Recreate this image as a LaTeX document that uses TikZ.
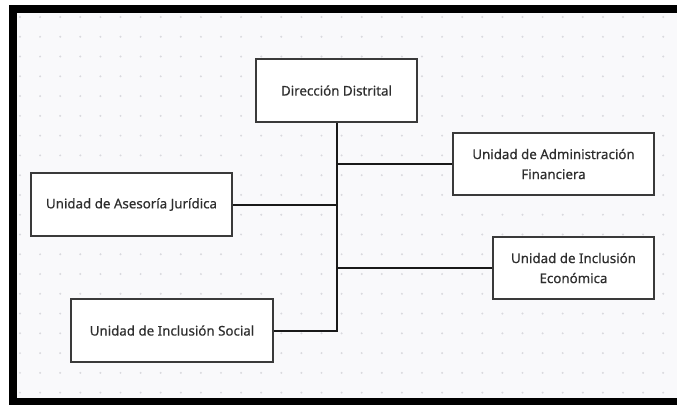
\documentclass[tikz,border=0pt]{standalone}
\usepackage{fontspec}
\setmainfont[FakeBold=0.5]{Noto Sans}
\definecolor{bg}{HTML}{F9F9FB}
\definecolor{dotc}{HTML}{D9D9DE}
\definecolor{boxline}{HTML}{3A3A3A}
\definecolor{txt}{HTML}{2E2E2E}
\begin{document}
\begin{tikzpicture}[x=0.75pt,y=-0.75pt,
  unitbox/.style={draw=boxline,line width=1.5pt,fill=white,inner sep=0pt,align=center,
    text=txt,font=\fontsize{10pt}{15pt}\selectfont\bfseries},
  link/.style={draw=black!90,line width=1.5pt}]
\useasboundingbox (0,0) rectangle (677,405);
\fill[white] (0,0) rectangle (677,405);
\fill[bg] (9,5) rectangle (677,405);
\foreach \i in {0,...,32}{
  \foreach \j in {0,...,19}{
    \fill[dotc] ({20+20.1*\i},{17+19.77*\j}) circle (1.1);
  }
}
\fill[black] (9,5) rectangle (677,13);
\fill[black] (9,5) rectangle (17,405);
\fill[black] (9,398) rectangle (677,405);

\node[unitbox,minimum width=120.75pt,minimum height=47.25pt] (dir) at (336.5,90.5) {Dirección Distrital};
\node[unitbox,minimum width=150.75pt,minimum height=46.5pt] (fin) at (553.5,164) {Unidad de Administración\\Financiera};
\node[unitbox,minimum width=150.75pt,minimum height=47.25pt] (ase) at (131.5,204.5) {Unidad de Asesoría Jurídica};
\node[unitbox,minimum width=120.75pt,minimum height=46.5pt] (eco) at (573.5,268) {Unidad de Inclusión\\Económica};
\node[unitbox,minimum width=151.5pt,minimum height=47.25pt] (soc) at (172,330.5) {Unidad de Inclusión Social};

\draw[link] (dir.south) -- (dir.south |- soc.east) -- (soc.east);
\draw[link] (fin.west) -- (fin.west -| dir.south);
\draw[link] (ase.east) -- (ase.east -| dir.south);
\draw[link] (eco.west) -- (eco.west -| dir.south);
\end{tikzpicture}
\end{document}
